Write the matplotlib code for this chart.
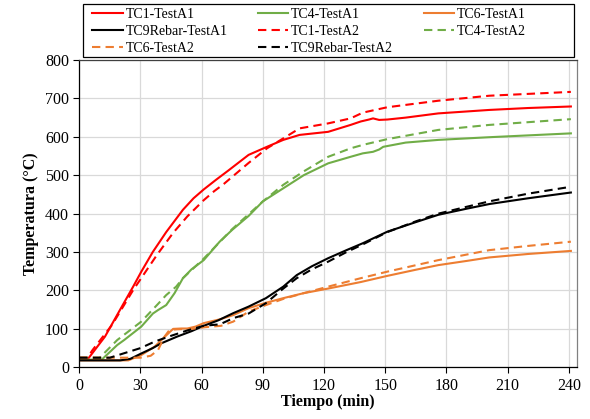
import numpy as np
import matplotlib
matplotlib.use("Agg")
import matplotlib.pyplot as plt
from matplotlib.patches import Rectangle

plt.rcParams['font.family'] = ['Liberation Serif', 'DejaVu Serif']

# TC1 (red)
t_tc1_a1 = [0, 4, 12.6, 19.9, 26.4, 30.4, 36, 42.6, 50.8, 56, 61, 67, 73, 83, 92, 100, 108, 122, 133, 138, 142, 144, 147, 151, 160, 176, 201, 220, 241]
tc1_a1 = [20, 20, 80, 149, 210, 249, 300, 352, 410, 440, 463, 488, 512, 553, 574, 592, 605, 613, 631, 640, 645, 648, 644, 645, 650, 661, 670, 675, 679]
t_tc1_a2 = [0, 4, 6.5, 16, 26.4, 32, 38, 46, 53, 61, 66, 71, 83, 92, 100, 108, 122, 133, 139, 151, 176, 201, 241]
tc1_a2 = [25, 25, 45, 110, 201, 245, 292, 350, 393, 435, 458, 478, 532, 570, 596, 622, 635, 648, 663, 677, 694, 707, 717]

# TC4 (green)
t_tc4_a1 = [0, 11, 18.6, 22, 30.4, 36.1, 38.6, 42.6, 46.7, 50.8, 55, 61, 68.8, 75, 83, 90, 100, 110, 122, 133, 139, 144, 147, 149, 155, 160, 176, 201, 241]
tc4_a1 = [20, 20, 58, 71, 106, 140, 149, 162, 193, 232, 255, 279, 327, 358, 394, 432, 466, 500, 531, 548, 557, 561, 567, 574, 580, 585, 592, 599, 609]
t_tc4_a2 = [0, 10, 18.6, 30.4, 38.6, 42.6, 47.5, 50.8, 61, 75, 90, 100, 110, 122, 133, 139, 151, 176, 201, 241]
tc4_a2 = [25, 25, 71, 119, 165, 188, 210, 232, 283, 360, 432, 475, 510, 548, 570, 579, 594, 618, 631, 646]

# TC6 (orange)
t_tc6_a1 = [0, 24, 30.4, 37, 42, 46, 50, 53, 57, 61, 69, 75.5, 83, 91.5, 100, 110, 122, 138, 151, 165, 176, 190, 201, 220, 241]
tc6_a1 = [18, 18, 32, 54, 80, 100, 101, 101, 106, 115, 125, 136, 154, 168, 180, 193, 205, 222, 238, 254, 266, 277, 286, 295, 303]
t_tc6_a2 = [0, 30, 35, 38.6, 41.8, 44.2, 48, 55, 61, 65, 69.5, 75.5, 83, 87, 91.5, 100, 110, 122, 138, 151, 176, 201, 220, 241]
tc6_a2 = [25, 25, 30, 45, 80, 97, 99, 100, 104, 106, 108, 119, 145, 153, 162, 178, 193, 210, 232, 249, 279, 305, 316, 327]

# TC9 Rebar (black)
t_tc9_a1 = [0, 20, 25, 30.4, 36, 40, 48, 55, 61, 68, 75.5, 83, 91.5, 100, 106.6, 114, 122, 131, 139, 151, 165, 176, 190, 201, 220, 241]
tc9_a1 = [18, 18, 22, 36, 50, 62, 80, 94, 108, 122, 141, 158, 180, 210, 240, 263, 284, 305, 323, 353, 378, 397, 413, 425, 440, 455]
t_tc9_a2 = [0, 15, 24, 30, 37, 45, 53, 61, 69, 75.5, 83, 91.5, 100, 106.6, 114, 122, 131, 139, 151, 165, 176, 190, 201, 220, 241]
tc9_a2 = [25, 25, 40, 50, 67, 82, 96, 108, 112, 128, 140, 167, 205, 232, 255, 275, 300, 320, 352, 380, 400, 418, 432, 452, 470]

red = '#FF0000'
green = '#70AD47'
orange = '#ED7D31'
black = '#000000'
dash = (0, (4, 2.5))

W, H = 590, 419
fig = plt.figure(figsize=(W / 100, H / 100), dpi=100)
ax = fig.add_axes([79.3 / W, 1 - 367.3 / H, (577 - 79.3) / W, (367.3 - 60) / H])

lw = 1.5
h1, = ax.plot(t_tc1_a1, tc1_a1, color=red, lw=lw, label='TC1-TestA1')
h2, = ax.plot(t_tc4_a1, tc4_a1, color=green, lw=lw, label='TC4-TestA1')
h3, = ax.plot(t_tc6_a1, tc6_a1, color=orange, lw=lw, label='TC6-TestA1')
h4, = ax.plot(t_tc9_a1, tc9_a1, color=black, lw=lw, label='TC9Rebar-TestA1')
h5, = ax.plot(t_tc1_a2, tc1_a2, color=red, lw=lw, ls=dash, label='TC1-TestA2')
h6, = ax.plot(t_tc4_a2, tc4_a2, color=green, lw=lw, ls=dash, label='TC4-TestA2')
h7, = ax.plot(t_tc6_a2, tc6_a2, color=orange, lw=lw, ls=dash, label='TC6-TestA2')
h8, = ax.plot(t_tc9_a2, tc9_a2, color=black, lw=lw, ls=dash, label='TC9Rebar-TestA2')

ax.set_xlim(0, 244)
ax.set_ylim(0, 800)
ax.set_xticks(np.arange(0, 241, 30))
ax.set_yticks(np.arange(0, 801, 100))
ax.grid(True, color='#D9D9D9', lw=0.9)
ax.set_axisbelow(True)
ax.tick_params(labelsize=11.5, direction='out', length=4, width=0.8, colors='black')
ax.spines['left'].set_color('black')
ax.spines['bottom'].set_color('black')
ax.spines['top'].set_color('#404040')
ax.spines['right'].set_color('#808080')
for s in ax.spines.values():
    s.set_linewidth(0.9)

ax.set_xlabel('Tiempo (min)', fontsize=11.5, fontweight='bold', labelpad=0)
ax.set_ylabel('Temperatura (°C)', fontsize=11.5, fontweight='bold', labelpad=4)

# legend, row-wise order like the original
handles = [h1, h4, h7, h2, h5, h8, h3, h6]
leg = fig.legend(handles=handles, ncol=3, loc='upper left',
                 bbox_to_anchor=(92 / W, 1 - 8 / H),
                 fontsize=10, frameon=False, handlelength=2.2, handletextpad=0.2,
                 labelspacing=0.27, columnspacing=2.2, borderpad=0, borderaxespad=0)
fig.patches.append(Rectangle((83 / W, 1 - 57 / H), (574 - 83) / W, 53 / H,
                             transform=fig.transFigure, fill=False,
                             edgecolor='black', lw=0.9))

fig.savefig('out.png', dpi=100)
